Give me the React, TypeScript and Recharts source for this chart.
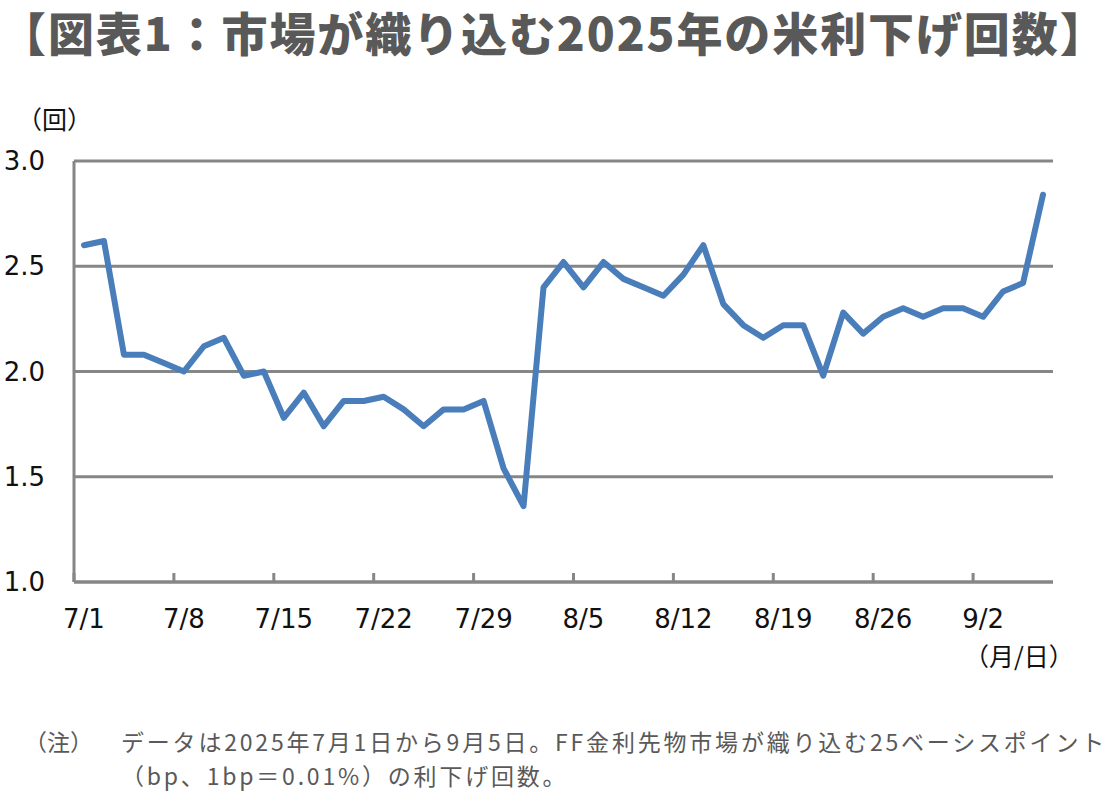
import { LineChart, Line, XAxis, YAxis, CartesianGrid } from 'recharts';

// 2025/7/1〜9/5 の営業日（平日）
const dates = [
  '7/1', '7/2', '7/3', '7/4', '7/7', '7/8', '7/9', '7/10', '7/11', '7/14',
  '7/15', '7/16', '7/17', '7/18', '7/21', '7/22', '7/23', '7/24', '7/25', '7/28',
  '7/29', '7/30', '7/31', '8/1', '8/4', '8/5', '8/6', '8/7', '8/8', '8/11',
  '8/12', '8/13', '8/14', '8/15', '8/18', '8/19', '8/20', '8/21', '8/22', '8/25',
  '8/26', '8/27', '8/28', '8/29', '9/1', '9/2', '9/3', '9/4', '9/5',
];

// 市場が織り込む利下げ回数（回）
const cuts = [
  2.6, 2.62, 2.08, 2.08, 2.04, 2.0, 2.12, 2.16, 1.98, 2.0,
  1.78, 1.9, 1.74, 1.86, 1.86, 1.88, 1.82, 1.74, 1.82, 1.82,
  1.86, 1.54, 1.36, 2.4, 2.52, 2.4, 2.52, 2.44, 2.4, 2.36,
  2.46, 2.6, 2.32, 2.22, 2.16, 2.22, 2.22, 1.98, 2.28, 2.18,
  2.26, 2.3, 2.26, 2.3, 2.3, 2.26, 2.38, 2.42, 2.84,
];

const tickLabels = ['7/1', '7/8', '7/15', '7/22', '7/29', '8/5', '8/12', '8/19', '8/26', '9/2'];
const yTicks = [1.0, 1.5, 2.0, 2.5, 3.0];

const data = dates.map((d, i) => ({ i, date: d, v: cuts[i] }));
const labelTicks = tickLabels.map((t) => dates.indexOf(t));
// 目盛り線はカテゴリの境界に置く
const markTicks = labelTicks.map((i) => i - 0.5);
const xDomain = [-0.5, dates.length - 0.5];

const GRAY = '#868686';
const TEXT = '#595959';
const NUM_FONT = '"DejaVu Sans", Verdana, sans-serif';
const JP_FONT = '"Noto Sans CJK JP", "Noto Sans", sans-serif';

const noteStyle = {
  position: 'absolute' as const,
  fontSize: 23,
  lineHeight: '26px',
  color: TEXT,
  whiteSpace: 'nowrap' as const,
};

export default function App() {
  return (
    <div style={{ position: 'absolute', left: 0, top: 0, width: 1109, height: 801, background: '#fff', fontFamily: JP_FONT }}>
      <div style={{ position: 'absolute', left: 0, top: 6, fontSize: 46, lineHeight: '50px', fontWeight: 800, color: TEXT, whiteSpace: 'nowrap', letterSpacing: 1.9 }}>
        【図表1：市場が織り込む2025年の米利下げ回数】
      </div>
      <div style={{ position: 'absolute', left: 17, top: 103, fontSize: 25, lineHeight: '30px', color: '#111' }}>（回）</div>
      <div style={{ position: 'absolute', left: 964, top: 640, fontSize: 25, lineHeight: '30px', color: '#111', whiteSpace: 'nowrap' }}>（月/日）</div>

      <div style={{ position: 'absolute', left: 0, top: 0 }}>
        <LineChart width={1109} height={700} data={data} margin={{ top: 161, right: 56, left: 0, bottom: 117 }}>
          <CartesianGrid vertical={false} stroke={GRAY} strokeWidth={3} horizontalValues={yTicks} />
          <XAxis
            xAxisId="marks"
            type="number"
            dataKey="i"
            domain={xDomain}
            ticks={markTicks}
            height={1}
            mirror
            tickSize={9}
            tick={() => <g />}
            axisLine={{ stroke: GRAY, strokeWidth: 3 }}
            tickLine={{ stroke: GRAY, strokeWidth: 3 }}
          />
          <XAxis
            xAxisId="labels"
            type="number"
            dataKey="i"
            domain={xDomain}
            ticks={labelTicks}
            height={1}
            axisLine={false}
            tickLine={false}
            tickSize={6}
            tickMargin={22}
            tickFormatter={(i) => dates[i]}
            tick={{ fontSize: 26, fill: '#111', fontFamily: NUM_FONT }}
          />
          <YAxis
            type="number"
            domain={[1, 3]}
            ticks={yTicks}
            width={74}
            axisLine={{ stroke: GRAY, strokeWidth: 3 }}
            tickLine={false}
            tickSize={6}
            tickMargin={23}
            tickFormatter={(v) => v.toFixed(1)}
            tick={{ fontSize: 26, fill: '#111', fontFamily: NUM_FONT }}
          />
          <Line
            xAxisId="labels"
            type="linear"
            dataKey="v"
            stroke="#4a7ebb"
            strokeWidth={6}
            strokeLinejoin="round"
            strokeLinecap="round"
            dot={false}
            isAnimationActive={false}
          />
        </LineChart>
      </div>

      <div style={{ ...noteStyle, left: 24, top: 728 }}>（注）</div>
      <div style={{ ...noteStyle, left: 121, top: 728, letterSpacing: 2.8 }}>
        データは2025年7月1日から9月5日。FF金利先物市場が織り込む25ベーシスポイント
      </div>
      <div style={{ ...noteStyle, left: 121, top: 762, letterSpacing: 2.8 }}>
        （bp、1bp＝0.01%）の利下げ回数。
      </div>
    </div>
  );
}
